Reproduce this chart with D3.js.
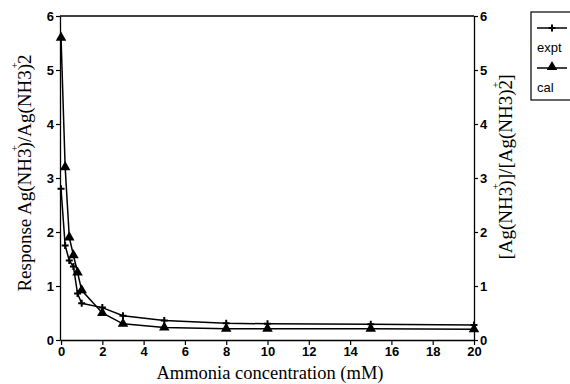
<!DOCTYPE html>
<html>
<head>
<meta charset="utf-8">
<script src="https://cdn.jsdelivr.net/npm/d3@7/dist/d3.min.js"></script>
<style>
  html, body { margin: 0; padding: 0; background: #fff; }
  svg { display: block; }
  .tick text { font-family: Arial, "Liberation Sans", sans-serif; font-weight: bold; font-size: 13px; fill: #000; }
  .ttl { font-family: "Liberation Serif", "Times New Roman", serif; font-size: 18.5px; fill: #000; }
  .ttl-v { font-family: "Liberation Serif", "Times New Roman", serif; font-size: 19px; fill: #000; }
</style>
</head>
<body>
<svg id="chart" width="570" height="384"></svg>
<script>
// Ammonia concentration (mM)
const concentration = [0, 0.2, 0.4, 0.6, 0.8, 1, 2, 3, 5, 8, 10, 15, 20];
// Measured response ratio
const expt = [2.8, 1.75, 1.47, 1.36, 0.86, 0.68, 0.6, 0.45, 0.36, 0.31, 0.3, 0.29, 0.28];
// Calculated [Ag(NH3)+]/[Ag(NH3)2+]
const cal = [5.6, 3.2, 1.9, 1.57, 1.25, 0.92, 0.5, 0.3, 0.23, 0.21, 0.21, 0.21, 0.2];
const xTicks = [0, 2, 4, 6, 8, 10, 12, 14, 16, 18, 20];
const yTicks = [0, 1, 2, 3, 4, 5, 6];
const legendLabels = ["expt", "cal"];

const svg = d3.select("#chart");
const plotLeft = 60, plotRight = 474, plotTop = 16, plotBottom = 340;

const x = d3.scaleLinear().domain([-0.05, 20]).range([plotLeft, plotRight]);
const y = d3.scaleLinear().domain([0, 6]).range([plotBottom, plotTop]);
const fmt = d3.format("d");

// frame top line
svg.append("line")
  .attr("x1", plotLeft).attr("x2", plotRight).attr("y1", plotTop).attr("y2", plotTop)
  .attr("stroke", "#000").attr("stroke-width", 1.3);

function styleAxis(g) {
  g.selectAll(".domain").attr("stroke", "#000").attr("stroke-width", 1.3);
  g.selectAll(".tick line").attr("stroke", "#000").attr("stroke-width", 1.2);
}

svg.append("g").attr("transform", `translate(0,${plotBottom})`)
  .call(d3.axisBottom(x).tickValues(xTicks).tickFormat(fmt).tickSize(5).tickSizeOuter(0).tickPadding(2))
  .call(styleAxis);

svg.append("g").attr("transform", `translate(${plotLeft},0)`)
  .call(d3.axisLeft(y).tickValues(yTicks).tickFormat(fmt).tickSize(4).tickSizeOuter(0).tickPadding(2))
  .call(styleAxis);

svg.append("g").attr("transform", `translate(${plotRight},0)`)
  .call(d3.axisRight(y).tickValues(yTicks).tickFormat(fmt).tickSize(4).tickSizeOuter(0).tickPadding(2))
  .call(styleAxis);

const line = d3.line().x(d => x(d[0])).y(d => y(d[1]));
const exptPts = concentration.map((c, i) => [c, expt[i]]);
const calPts = concentration.map((c, i) => [c, cal[i]]);

svg.append("path").datum(exptPts).attr("d", line)
  .attr("fill", "none").attr("stroke", "#000").attr("stroke-width", 1.5);
svg.append("path").datum(calPts).attr("d", line)
  .attr("fill", "none").attr("stroke", "#000").attr("stroke-width", 1.5);

function drawPlus(g, cx, cy) {
  g.append("path")
    .attr("d", `M${cx - 3.5},${cy}H${cx + 3.5}M${cx},${cy - 3.5}V${cy + 3.5}`)
    .attr("stroke", "#000").attr("stroke-width", 2).attr("fill", "none");
}
const tri = d3.symbol().type(d3.symbolTriangle).size(48);

const ex = svg.append("g");
exptPts.forEach(d => drawPlus(ex, x(d[0]), y(d[1])));

svg.append("g").selectAll("path").data(calPts).join("path")
  .attr("d", tri)
  .attr("transform", d => `translate(${x(d[0])},${y(d[1])})`)
  .attr("fill", "#000");

// axis titles
svg.append("text").attr("class", "ttl")
  .attr("x", 270).attr("y", 379).attr("text-anchor", "middle")
  .text("Ammonia concentration (mM)");

// superscript charges sit above the closing parenthesis / trailing 2
const lt = svg.append("text").attr("class", "ttl-v")
  .attr("text-anchor", "middle")
  .attr("transform", "translate(31,173) rotate(-90)");
lt.append("tspan").text("Response Ag(NH3)");
lt.append("tspan").attr("dy", -13).attr("font-size", 11).attr("dx", -9).text("+");
lt.append("tspan").attr("dy", 13).attr("dx", 3).text("/Ag(NH3)2");
lt.append("tspan").attr("dy", -13).attr("font-size", 11).attr("dx", -14).text("+");

const rt = svg.append("text").attr("class", "ttl-v")
  .attr("text-anchor", "middle")
  .attr("transform", "translate(512,167) rotate(-90)");
rt.append("tspan").text("[Ag(NH3)");
rt.append("tspan").attr("dy", -13).attr("font-size", 11).attr("dx", -9).text("+");
rt.append("tspan").attr("dy", 13).attr("dx", 3).text("]/[Ag(NH3)2");
rt.append("tspan").attr("dy", -13).attr("font-size", 11).attr("dx", -8).text("+");
rt.append("tspan").attr("dy", 13).attr("dx", 1).text("]");

// legend
const lg = svg.append("g");
lg.append("rect").attr("x", 531).attr("y", 12).attr("width", 50).attr("height", 88)
  .attr("fill", "#fff").attr("stroke", "#000").attr("stroke-width", 1.2);
[28, 68].forEach((ly, i) => {
  lg.append("line").attr("x1", 537).attr("x2", 567).attr("y1", ly).attr("y2", ly)
    .attr("stroke", "#000").attr("stroke-width", 1.5);
  if (i === 0) drawPlus(lg, 552, ly);
  else lg.append("path").attr("d", tri).attr("transform", `translate(552,${ly - 1})`).attr("fill", "#000");
  lg.append("text").attr("x", 537).attr("y", ly + 24)
    .attr("font-family", "Arial, 'Liberation Sans', sans-serif").attr("font-size", 13)
    .text(legendLabels[i]);
});
</script>
</body>
</html>
